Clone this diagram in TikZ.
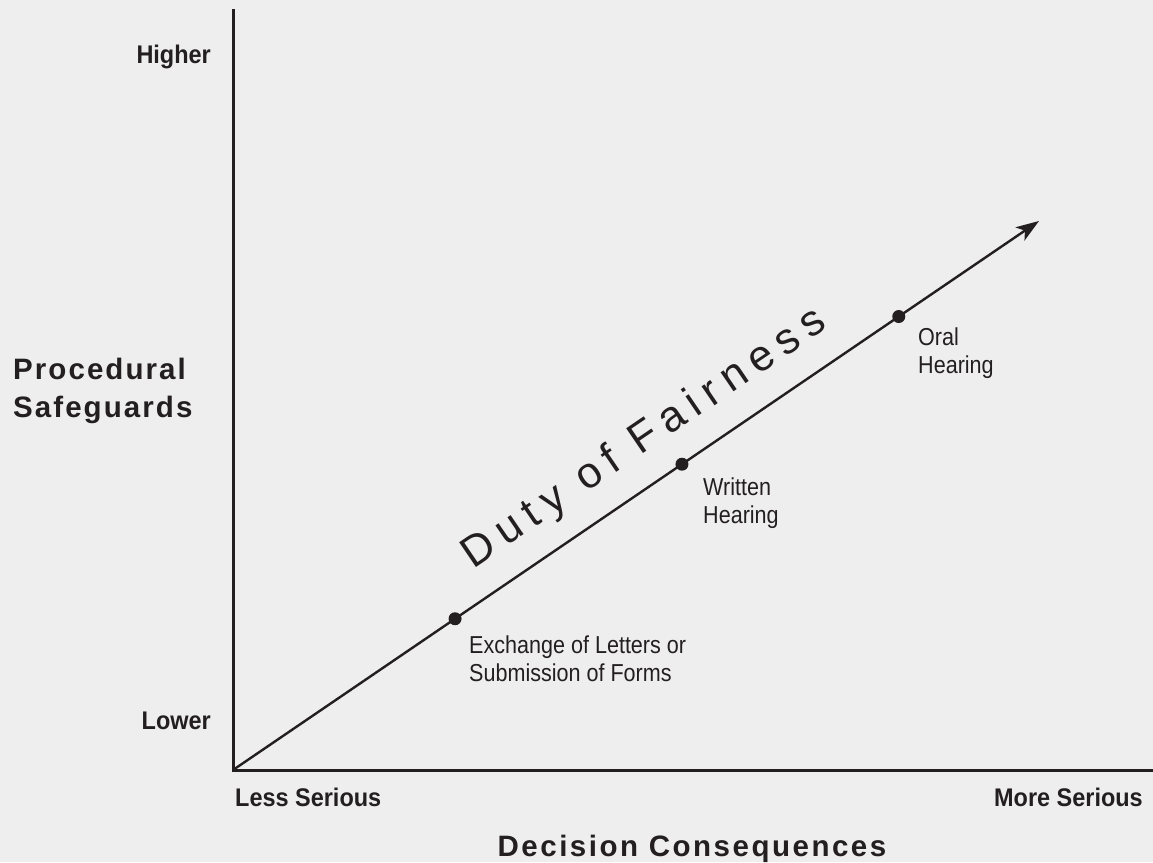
\documentclass[tikz,border=0pt]{standalone}
\usepackage{fontspec}
\setmainfont{Liberation Sans}
\newfontfamily\axisfont[FakeStretch=0.92]{Liberation Sans Bold}
\newfontfamily\titlefont[LetterSpace=7]{Liberation Sans Bold}
\newfontfamily\xtitlefont[LetterSpace=8.5]{Liberation Sans Bold}
\newfontfamily\dutyfont[LetterSpace=20]{Liberation Sans}
\newfontfamily\notefont[FakeStretch=0.88]{Liberation Sans}
\usetikzlibrary{calc,arrows.meta}
\definecolor{ink}{HTML}{231F20}
\definecolor{bg}{HTML}{EEEEEE}
\tikzset{
  axis/.style={draw=ink,line width=3pt},
  diag/.style={draw=ink,line width=2.4pt,-{Stealth[length=23pt,width=16pt,inset=6pt]}},
  dot/.style={circle,fill=ink,inner sep=0pt,minimum size=13pt},
  endlabel/.style={inner sep=0pt,text=ink,font=\axisfont\fontsize{25.5}{28}\selectfont},
  title/.style={inner sep=0pt,text=ink,font=\titlefont\fontsize{29.5}{38}\selectfont,align=left},
  note/.style={inner sep=0pt,text=ink,font=\notefont\fontsize{24.5}{28}\selectfont,align=left,anchor=base west},
}
\begin{document}
\begin{tikzpicture}[x=1pt,y=-1pt]
\useasboundingbox (0,0) rectangle (1153,862);
\fill[bg] (0,0) rectangle (1153,862);
\coordinate (O) at (233,770);
\coordinate (ytop) at (233,10);
\coordinate (xend) at (1153,770);
\coordinate (tip) at (1039,221);
\draw[axis,line cap=rect] (ytop) -- (O) -- (xend);
\draw[diag] (O) -- (tip);
\node[dot] (d1) at ($(O)!0.2755!(tip)$) {};
\node[dot] (d2) at ($(O)!0.557!(tip)$) {};
\node[dot] (d3) at ($(O)!0.826!(tip)$) {};
\node[note] (n1) at (469,681) {Exchange of Letters or\\Submission of Forms};
\node[note] (n2) at (703,523) {Written\\Hearing};
\node[note] (n3) at (918,373) {Oral\\Hearing};
\node[inner sep=0pt,text=ink,anchor=base west,rotate=34.2,font=\dutyfont\fontsize{43.5}{48}\selectfont] (duty) at (473.3,569.3) {Duty of Fairness};
\node[endlabel,anchor=base east] (higher) at (211,63) {Higher};
\node[endlabel,anchor=base east] (lower) at (211,729) {Lower};
\node[endlabel,anchor=base west] (less) at (235,806) {Less Serious};
\node[endlabel,anchor=base east] (more) at (1143,806) {More Serious};
\node[title,anchor=base west] (ps) at (13,417) {Procedural\\Safeguards};
\node[inner sep=0pt,text=ink,font=\xtitlefont\fontsize{29.5}{38}\selectfont,anchor=base] (dc) at (692,856) {Decision Consequences};
\end{tikzpicture}
\end{document}
